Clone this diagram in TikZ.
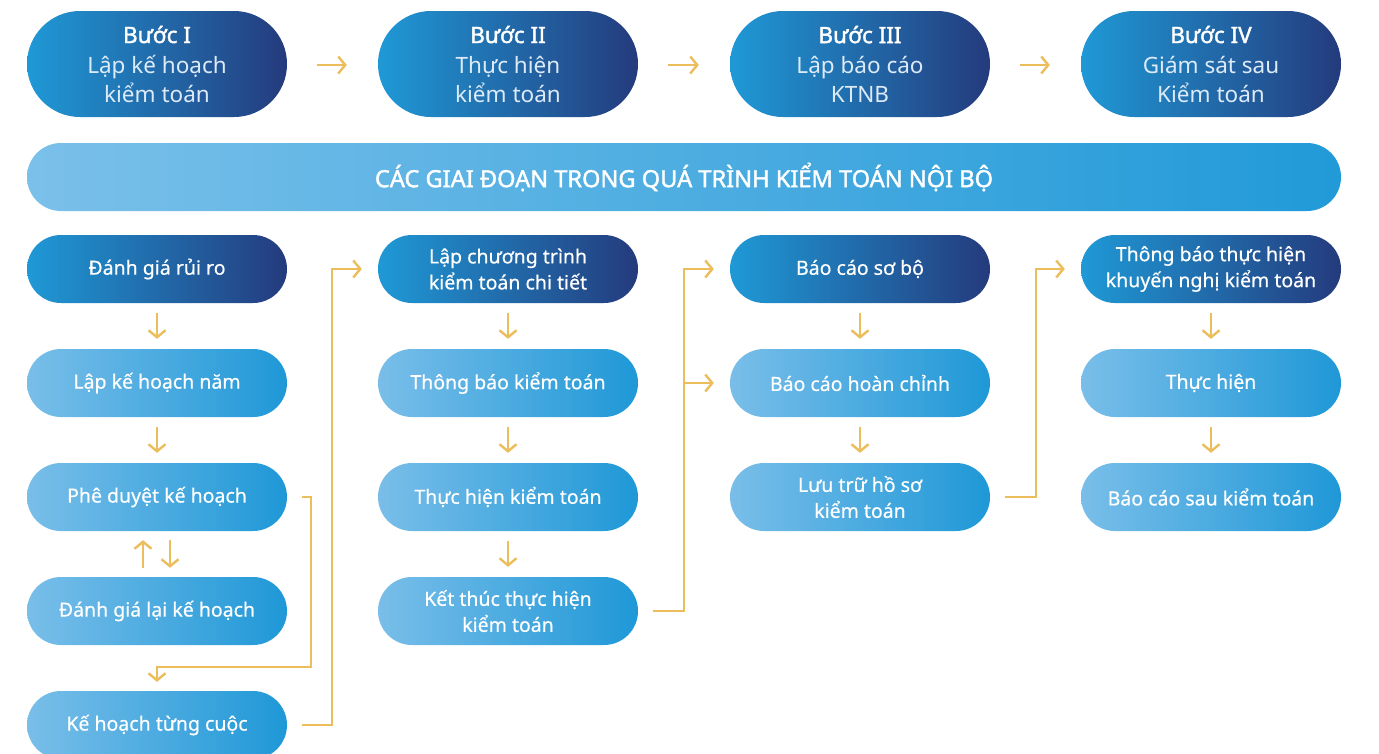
\documentclass[tikz,border=0pt]{standalone}
\usepackage{fontspec}
\setmainfont{Noto Sans}
\newfontfamily\nsbold{Noto Sans}[FakeBold=1.6]
\newfontfamily\nsmed{Noto Sans}[FakeBold=0.5]
\usetikzlibrary{arrows.meta}
\definecolor{gold}{HTML}{EBBD5B}
\definecolor{dL}{HTML}{1F99D6}
\definecolor{dR}{HTML}{243B7D}
\definecolor{lL}{HTML}{79BEE9}
\definecolor{lR}{HTML}{1F98D7}
\definecolor{bL}{HTML}{7AC0EA}
\definecolor{bR}{HTML}{219AD8}
\definecolor{subtxt}{HTML}{DDEBF8}
\begin{document}
\begin{tikzpicture}[x=1pt,y=-1pt,
  pillbase/.style={rounded corners=34pt, minimum width=260pt, minimum height=68pt,
    inner sep=0pt, text=white, align=center, font=\nsmed\fontsize{19.5}{26}\selectfont},
  darkpill/.style={pillbase, left color=dL, right color=dR},
  lightpill/.style={pillbase, left color=lL, right color=lR},
  toppill/.style={rounded corners=53pt, minimum width=260pt, minimum height=106pt,
    inner sep=0pt, text=subtxt, align=center, font=\fontsize{22.5}{29}\selectfont,
    left color=dL, right color=dR},
  banner/.style={rounded corners=34pt, minimum width=1314pt, minimum height=68pt,
    inner sep=0pt, text=white, font=\nsbold\fontsize{23.6}{26}\selectfont,
    left color=bL, right color=bR},
  conn/.style={draw=gold, line width=2.4pt, line join=miter,
    -{Straight Barb[length=7pt,width=17pt,line width=2.4pt]}}
]
\useasboundingbox (0,0) rectangle (1379,753);
\fill[white] (0,0) rectangle (1379,753);

% top step pills
\node[toppill] (s1) at (157,64) {\textcolor{white}{\nsbold Bước I}\\[1pt]Lập kế hoạch\\kiểm toán};
\node[toppill] (s2) at (508,64) {\textcolor{white}{\nsbold Bước II}\\[1pt]Thực hiện\\kiểm toán};
\node[toppill] (s3) at (860,64) {\textcolor{white}{\nsbold Bước III}\\[1pt]Lập báo cáo\\KTNB};
\node[toppill] (s4) at (1211,64) {\textcolor{white}{\nsbold Bước IV}\\[1pt]Giám sát sau\\Kiểm toán};

\draw[conn] ([xshift=30pt,yshift=-1pt]s1.east) -- ([xshift=-31pt,yshift=-1pt]s2.west);
\draw[conn] ([xshift=30pt,yshift=-1pt]s2.east) -- ([xshift=-31pt,yshift=-1pt]s3.west);
\draw[conn] ([xshift=30pt,yshift=-1pt]s3.east) -- ([xshift=-31pt,yshift=-1pt]s4.west);

% banner
\node[banner] (ban) at (684,177) {CÁC GIAI ĐOẠN TRONG QUÁ TRÌNH KIỂM TOÁN NỘI BỘ};

% column 1
\node[darkpill]  (a1) at (157,269) {Đánh giá rủi ro};
\node[lightpill] (a2) at (157,383) {Lập kế hoạch năm};
\node[lightpill] (a3) at (157,497) {Phê duyệt kế hoạch};
\node[lightpill] (a4) at (157,611) {Đánh giá lại kế hoạch};
\node[lightpill] (a5) at (157,725) {Kế hoạch từng cuộc};

% column 2
\node[darkpill]  (b1) at (508,269) {Lập chương trình\\kiểm toán chi tiết};
\node[lightpill] (b2) at (508,383) {Thông báo kiểm toán};
\node[lightpill] (b3) at (508,497) {Thực hiện kiểm toán};
\node[lightpill] (b4) at (508,611) {Kết thúc thực hiện\\kiểm toán};

% column 3
\node[darkpill]  (c1) at (860,269) {Báo cáo sơ bộ};
\node[lightpill] (c2) at (860,383) {Báo cáo hoàn chỉnh};
\node[lightpill] (c3) at (860,497) {Lưu trữ hồ sơ\\kiểm toán};

% column 4
\node[darkpill]  (d1) at (1211,269) {Thông báo thực hiện\\khuyến nghị kiểm toán};
\node[lightpill] (d2) at (1211,383) {Thực hiện};
\node[lightpill] (d3) at (1211,497) {Báo cáo sau kiểm toán};

% vertical arrows
\draw[conn] ([yshift=-10pt]a1.south) -- ([yshift=10pt]a2.north);
\draw[conn] ([yshift=-10pt]a2.south) -- ([yshift=10pt]a3.north);
\draw[conn] ([xshift=-14pt,yshift=9pt]a4.north) -- ([xshift=-14pt,yshift=-9pt]a3.south);
\draw[conn] ([xshift=13pt,yshift=-9pt]a3.south) -- ([xshift=13pt,yshift=9pt]a4.north);

\draw[conn] ([yshift=-10pt]b1.south) -- ([yshift=10pt]b2.north);
\draw[conn] ([yshift=-10pt]b2.south) -- ([yshift=10pt]b3.north);
\draw[conn] ([yshift=-10pt]b3.south) -- ([yshift=10pt]b4.north);

\draw[conn] ([yshift=-10pt]c1.south) -- ([yshift=10pt]c2.north);
\draw[conn] ([yshift=-10pt]c2.south) -- ([yshift=10pt]c3.north);

\draw[conn] ([yshift=-10pt]d1.south) -- ([yshift=10pt]d2.north);
\draw[conn] ([yshift=-10pt]d2.south) -- ([yshift=10pt]d3.north);

% elbow connectors
\draw[conn] ([xshift=15pt]a3.east) -- ++(9,0) |- ([yshift=24pt]a5.north) -- ([yshift=9pt]a5.north);
\draw[conn] ([xshift=15pt]a5.east) -- ++(30,0) |- ([xshift=-16pt]b1.west);

\coordinate (kx) at ([xshift=46pt]b4.east);
\draw[conn] ([xshift=15pt]b4.east) -- (kx) |- ([xshift=-16pt]c1.west);
\draw[conn] (kx |- c2) -- ([xshift=-16pt]c2.west);

\draw[conn] ([xshift=15pt]c3.east) -- ++(31,0) |- ([xshift=-16pt]d1.west);
\end{tikzpicture}
\end{document}
